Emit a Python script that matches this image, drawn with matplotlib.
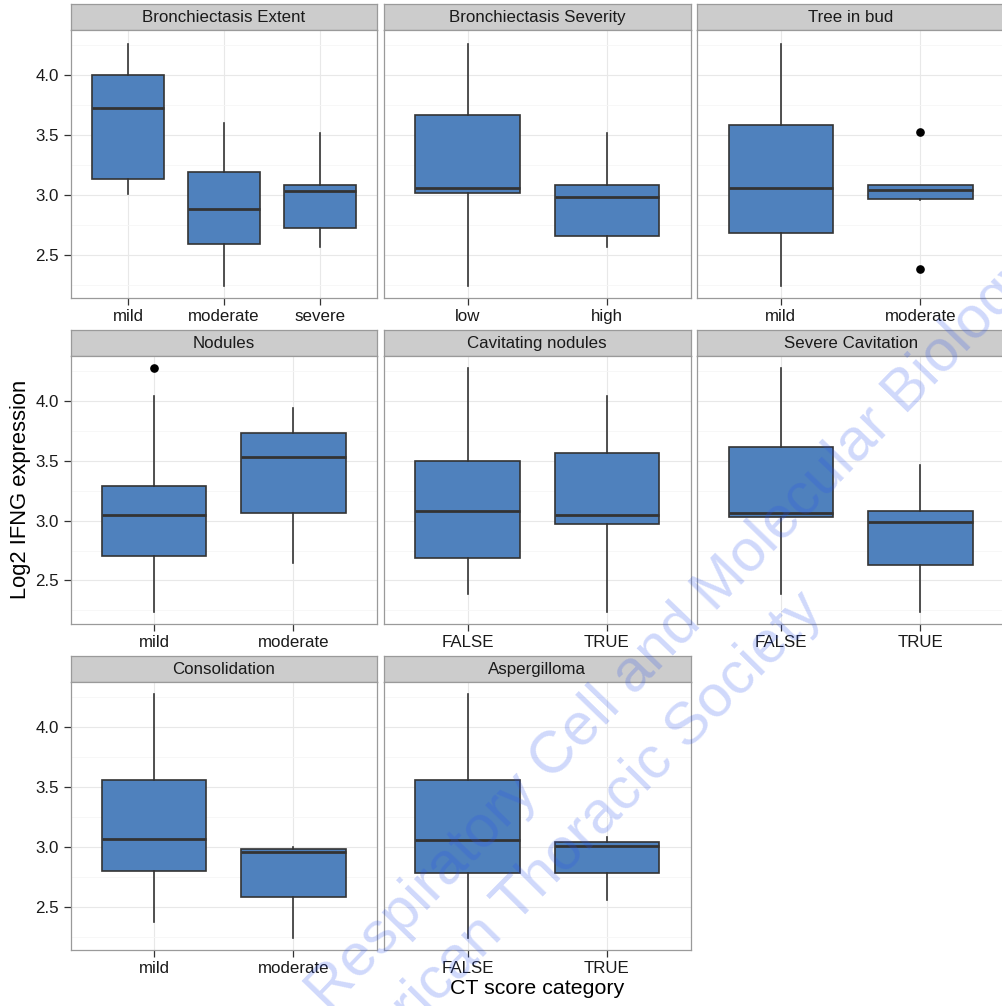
import matplotlib
matplotlib.use("Agg")
import matplotlib.pyplot as plt

plt.rcParams['font.family'] = ['Liberation Sans', 'DejaVu Sans']

# ---------------- data ----------------
panel_titles = ["Bronchiectasis Extent", "Bronchiectasis Severity", "Tree in bud",
                "Nodules", "Cavitating nodules", "Severe Cavitation",
                "Consolidation", "Aspergilloma"]

panel_categories = [
    ["mild", "moderate", "severe"],
    ["low", "high"],
    ["mild", "moderate"],
    ["mild", "moderate"],
    ["FALSE", "TRUE"],
    ["FALSE", "TRUE"],
    ["mild", "moderate"],
    ["FALSE", "TRUE"],
]

# per panel, per category: lower whisker, Q1, median, Q3, upper whisker
whisker_low = [
    [3.005, 2.235, 2.56],
    [2.235, 2.56],
    [2.235, 2.96],
    [2.24, 2.65],
    [2.385, 2.24],
    [2.385, 2.24],
    [2.375, 2.235],
    [2.235, 2.555],
]
q1_values = [
    [3.13, 2.59, 2.72],
    [3.015, 2.66],
    [2.683, 2.968],
    [2.705, 3.065],
    [2.69, 2.97],
    [3.03, 2.63],
    [2.80, 2.585],
    [2.78, 2.78],
]
median_values = [
    [3.725, 2.885, 3.03],
    [3.06, 2.985],
    [3.06, 3.04],
    [3.045, 3.535],
    [3.08, 3.045],
    [3.065, 2.985],
    [3.065, 2.96],
    [3.06, 3.01],
]
q3_values = [
    [4.0, 3.195, 3.08],
    [3.665, 3.08],
    [3.585, 3.08],
    [3.29, 3.73],
    [3.50, 3.565],
    [3.615, 3.085],
    [3.56, 2.98],
    [3.56, 3.045],
]
whisker_high = [
    [4.265, 3.605, 3.52],
    [4.265, 3.52],
    [4.265, 3.08],
    [4.045, 3.94],
    [4.275, 4.045],
    [4.275, 3.465],
    [4.28, 3.0],
    [4.28, 3.08],
]
outliers = [
    [[], [], []],
    [[], []],
    [[], [3.525, 2.378]],
    [[4.28], []],
    [[], []],
    [[], []],
    [[], []],
    [[], []],
]

y_ticks = [2.5, 3.0, 3.5, 4.0]
y_minor = [2.25, 2.75, 3.25, 3.75, 4.25]
y_limits = (2.135, 4.377)

x_title = "CT score category"
y_title = "Log2 IFNG expression"
watermark_1 = "Respiratory Cell and Molecular Biology"
watermark_2 = "American Thoracic Society"

# ---------------- layout (pixels) ----------------
W, H = 1003, 1006
fig = plt.figure(figsize=(W / 100, H / 100), dpi=100)
fig.patch.set_facecolor("white")

col_x = [70.5, 383.9, 697.3]
panel_w = 306.6
strip_top = [4.0, 329.8, 656.0]
strip_h = 26.3
panel_h = 268.0

box_fill = "#4F81BD"
dark = "#333333"
border = "#9A9A9A"
text_col = "#1A1A1A"


def fig_rect(x, y_top, w, h):
    return [x / W, 1 - (y_top + h) / H, w / W, h / H]


for i, title in enumerate(panel_titles):
    r, c = divmod(i, 3)
    x0 = col_x[c]
    st = strip_top[r]
    pt = st + strip_h

    # strip
    sax = fig.add_axes(fig_rect(x0, st, panel_w, strip_h))
    sax.set_facecolor("#CCCCCC")
    sax.set_xticks([])
    sax.set_yticks([])
    for sp in sax.spines.values():
        sp.set_color(border)
        sp.set_linewidth(0.9)
    sax.text(0.5, 0.47, title, ha="center", va="center", fontsize=12.2,
             color=text_col, transform=sax.transAxes)

    # panel
    ax = fig.add_axes(fig_rect(x0, pt, panel_w, panel_h))
    cats = panel_categories[i]
    n = len(cats)
    stats = []
    for j in range(n):
        stats.append(dict(whislo=whisker_low[i][j], q1=q1_values[i][j],
                          med=median_values[i][j], q3=q3_values[i][j],
                          whishi=whisker_high[i][j], fliers=outliers[i][j]))
    pos = list(range(1, n + 1))
    ax.bxp(stats, positions=pos, widths=0.75, patch_artist=True,
           showcaps=False,
           boxprops=dict(facecolor=box_fill, edgecolor=dark, linewidth=1.2),
           medianprops=dict(color=dark, linewidth=2.0, solid_capstyle="butt"),
           whiskerprops=dict(color=dark, linewidth=1.2),
           flierprops=dict(marker="o", markerfacecolor="black",
                           markeredgecolor="black", markersize=5.2))
    ax.set_xlim(0.4, n + 0.6)
    ax.set_ylim(*y_limits)
    ax.set_xticks(pos)
    ax.set_xticklabels(cats)
    ax.set_yticks(y_ticks)
    ax.set_yticks(y_minor, minor=True)
    ax.set_yticklabels(["%.1f" % v for v in y_ticks])
    ax.set_axisbelow(True)
    ax.grid(which="major", color="#E8E8E8", linewidth=0.8)
    ax.grid(which="minor", axis="y", color="#F6F6F6", linewidth=0.6)
    ax.tick_params(which="minor", length=0)
    ax.tick_params(axis="both", which="major", length=5.0, width=0.9,
                   color=dark, labelsize=12.2, labelcolor=text_col)
    ax.tick_params(axis="x", pad=2.6)
    ax.tick_params(axis="y", pad=3.2)
    if c != 0:
        ax.tick_params(axis="y", left=False, labelleft=False)
    for sp in ax.spines.values():
        sp.set_color(border)
        sp.set_linewidth(0.9)

# axis titles
fig.text(537 / W, 1 - 988 / H, x_title, ha="center", va="center",
         fontsize=15.4, color="black")
fig.text(21 / W, 1 - 489 / H, y_title, ha="center", va="center",
         rotation=90, fontsize=15.8, color="black")

# watermark
fig.text(328 / W, 1 - 1013 / H, watermark_1, ha="left", va="baseline",
         rotation=46, rotation_mode="anchor", fontsize=42.8,
         color="#2850F0", alpha=0.22, zorder=50)
fig.text(825 / W, 1 - 612 / H, watermark_2, ha="right", va="baseline",
         rotation=45.3, rotation_mode="anchor", fontsize=42.8,
         color="#2850F0", alpha=0.22, zorder=50)

fig.savefig("out.png", dpi=100, facecolor="white")
